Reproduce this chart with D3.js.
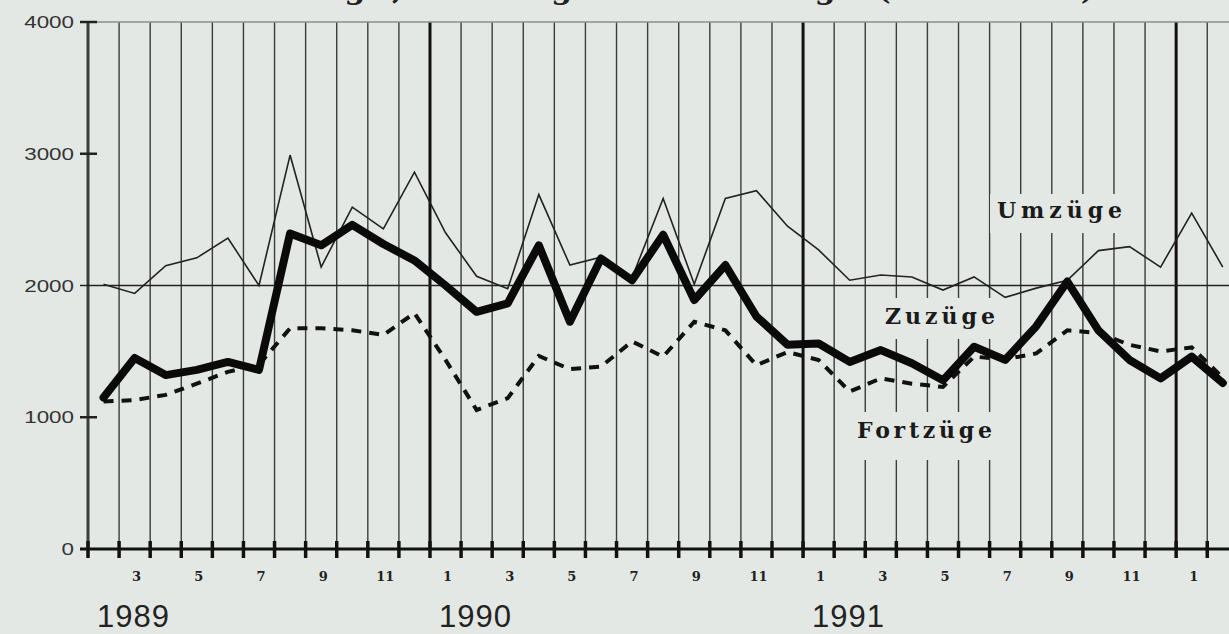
<!DOCTYPE html>
<html lang="de">
<head>
<meta charset="UTF-8">
<title>Zuzüge, Fortzüge, Umzüge</title>
<script src="https://d3js.org/d3.v7.min.js"></script>
<style>
  body { margin: 0; background: #e4e8e4; }
  svg { display: block; }
</style>
</head>
<body>
<div id="chart"></div>
<script>
// month numbers, Feb 1989 .. Feb 1992
const monthNums = [2,3,4,5,6,7,8,9,10,11,12,
                   1,2,3,4,5,6,7,8,9,10,11,12,
                   1,2,3,4,5,6,7,8,9,10,11,12,
                   1,2];
const yearLabels = ["1989", "1990", "1991"];
const yearStart = [0, 11, 23];           // index of first month shown for each year
const yTicks = [0, 1000, 2000, 3000, 4000];

// series values (persons per month)
const umzuege = [2010,1940,2150,2210,2360,2000,2990,2140,2595,2430,2860,
                 2400,2070,1975,2690,2155,2215,2060,2660,2010,2660,2720,2450,
                 2270,2040,2080,2065,1965,2065,1910,1980,2040,2265,2295,2140,
                 2550,2140];
const zuzuege = [1150,1450,1320,1360,1420,1360,2395,2305,2460,2315,2190,
                 2000,1800,1865,2305,1725,2205,2040,2385,1890,2155,1765,1550,
                 1560,1420,1510,1410,1280,1535,1435,1690,2030,1660,1435,1295,
                 1460,1260];
const fortzuege = [1120,1130,1170,1255,1345,1400,1675,1675,1660,1625,1790,
                   1435,1055,1145,1465,1365,1385,1575,1460,1725,1660,1395,1495,
                   1435,1195,1295,1255,1230,1460,1440,1485,1660,1640,1550,1500,
                   1530,1300];

const width = 1229, height = 634;
const bg = "#e4e8e4";

const svg = d3.select("#chart").append("svg")
    .attr("width", width)
    .attr("height", height);

const idx = d3.range(monthNums.length);
const x = d3.scaleBand().domain(idx).range([88, 88 + 31.09 * monthNums.length]).padding(0);
const y = d3.scaleLinear().domain([0, 4000]).range([549, 22]);
const cx = i => x(i) + x.bandwidth() / 2;

// title, mostly cut off at the top edge (as in the scan)
svg.append("text")
    .attr("x", 95).attr("y", -1)
    .attr("font-family", "DejaVu Serif").attr("font-weight", "bold")
    .attr("font-size", 30)
    .attr("textLength", 1000)
    .attr("fill", "#222")
    .text("Bild 4: Zuzüge, Fortzüge und Umzüge (Personen)");

// vertical grid at month boundaries
const bounds = d3.range(monthNums.length + 1);
svg.append("g").selectAll("line")
    .data(bounds)
    .join("line")
    .attr("x1", i => 88 + i * x.step())
    .attr("x2", i => 88 + i * x.step())
    .attr("y1", y(4000)).attr("y2", y(0))
    .attr("stroke", i => monthNums[i] === 1 ? "#111" : "#3a3d3a")
    .attr("stroke-width", i => (i === 0 || monthNums[i] === 1) ? 3 : 1.4);

// top line and 2000 line
svg.append("line")
    .attr("x1", 88).attr("x2", width).attr("y1", y(4000)).attr("y2", y(4000))
    .attr("stroke", "#8a8f8a").attr("stroke-width", 1.5);
svg.append("line")
    .attr("x1", 80).attr("x2", width).attr("y1", y(2000)).attr("y2", y(2000))
    .attr("stroke", "#222").attr("stroke-width", 1.5);

// y ticks and labels
svg.append("g").selectAll("line")
    .data([1000, 3000, 4000])
    .join("line")
    .attr("x1", 80).attr("x2", 97)
    .attr("y1", d => y(d)).attr("y2", d => y(d))
    .attr("stroke", "#222").attr("stroke-width", 2.5);

svg.append("g").selectAll("text")
    .data(yTicks)
    .join("text")
    .attr("transform", d => `translate(74,${y(d) + 6}) scale(1.4,1)`)
    .attr("text-anchor", "end")
    .attr("font-family", "Liberation Sans")
    .attr("font-size", 16)
    .attr("fill", "#333")
    .text(d => d);

// x axis with cross ticks
svg.append("line")
    .attr("x1", 80).attr("x2", width).attr("y1", y(0)).attr("y2", y(0))
    .attr("stroke", "#111").attr("stroke-width", 3);
svg.append("g").selectAll("line")
    .data(bounds)
    .join("line")
    .attr("x1", i => 88 + i * x.step())
    .attr("x2", i => 88 + i * x.step())
    .attr("y1", y(0) - 8).attr("y2", y(0) + 9)
    .attr("stroke", "#111").attr("stroke-width", 3.5);

// month labels on odd months
svg.append("g").selectAll("text")
    .data(idx.filter(i => monthNums[i] % 2 === 1))
    .join("text")
    .attr("x", i => cx(i) + 2)
    .attr("y", 581)
    .attr("text-anchor", "middle")
    .attr("font-family", "DejaVu Serif").attr("font-weight", "bold")
    .attr("font-size", 13)
    .attr("fill", "#222")
    .text(i => monthNums[i]);

// year labels
svg.append("g").selectAll("text")
    .data(yearLabels)
    .join("text")
    .attr("x", (d, k) => x(yearStart[k]) + 9)
    .attr("y", 627)
    .attr("font-family", "Liberation Sans")
    .attr("font-size", 31)
    .attr("letter-spacing", 1)
    .attr("fill", "#222")
    .text(d => d);

// series labels with background gaps
const labels = [
    { text: "Umzüge",   x: 997, y: 218, w: 125, box: [990, 194, 138, 39] },
    { text: "Zuzüge",   x: 885, y: 324, w: 110, box: [878, 298, 124, 41] },
    { text: "Fortzüge", x: 857, y: 438, w: 135, box: [850, 412, 150, 48] }
];
svg.append("g").selectAll("rect")
    .data(labels)
    .join("rect")
    .attr("x", d => d.box[0]).attr("y", d => d.box[1])
    .attr("width", d => d.box[2]).attr("height", d => d.box[3])
    .attr("fill", bg);

// lines
const line = d3.line()
    .x((d, i) => cx(i))
    .y(d => y(d));

svg.append("path")
    .datum(fortzuege)
    .attr("d", line)
    .attr("fill", "none")
    .attr("stroke", "#111")
    .attr("stroke-width", 4)
    .attr("stroke-dasharray", "10,8");

svg.append("path")
    .datum(umzuege)
    .attr("d", line)
    .attr("fill", "none")
    .attr("stroke", "#222")
    .attr("stroke-width", 1.6)
    .attr("stroke-linejoin", "miter");

svg.append("path")
    .datum(zuzuege)
    .attr("d", line)
    .attr("fill", "none")
    .attr("stroke", "#0a0a0a")
    .attr("stroke-width", 8)
    .attr("stroke-linejoin", "round")
    .attr("stroke-linecap", "round");

svg.append("g").selectAll("text")
    .data(labels)
    .join("text")
    .attr("x", d => d.x).attr("y", d => d.y)
    .attr("font-family", "DejaVu Serif").attr("font-weight", "bold")
    .attr("font-size", 22)
    .attr("textLength", d => d.w)
    .attr("fill", "#1a1a1a")
    .text(d => d.text);
</script>
</body>
</html>
